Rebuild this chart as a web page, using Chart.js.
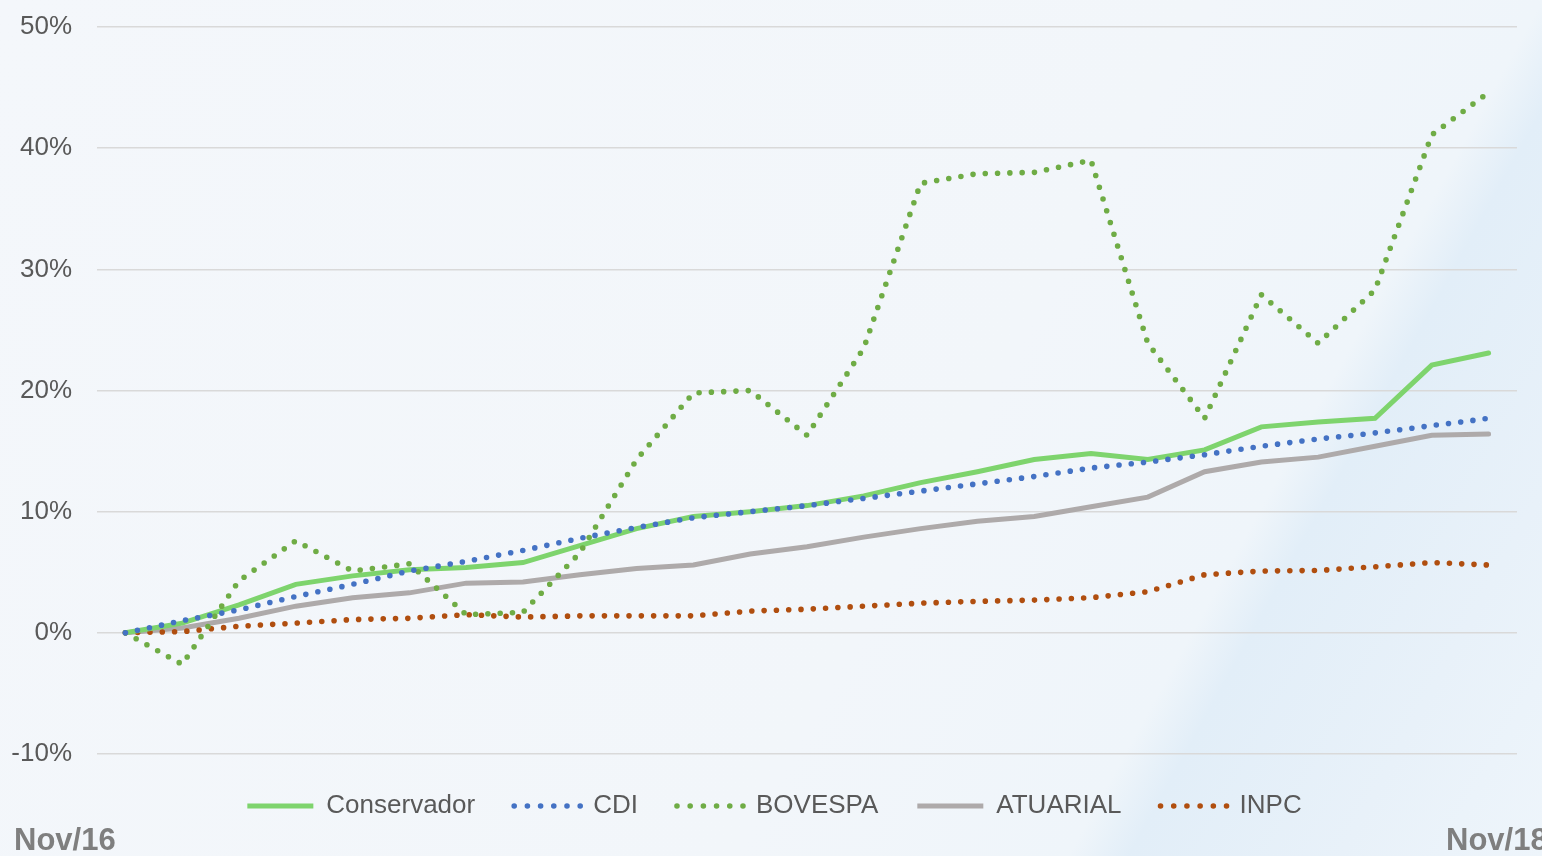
<!DOCTYPE html>
<html>
<head>
<meta charset="utf-8">
<script src="https://cdn.jsdelivr.net/npm/chart.js@4/dist/chart.umd.min.js"></script>
<style>
  html, body { margin: 0; padding: 0; }
  body {
    width: 1542px; height: 856px; overflow: hidden; position: relative;
    background: linear-gradient(119deg, #f4f7fb 0%, #f2f6fa 60%, #eff5fa 76.5%, #e2eef8 79.5%, #e8f1f9 90%, #eef5fb 100%);
    font-family: "Liberation Sans", Arial, sans-serif;
  }
  #wrap { position: absolute; left: 0; top: 0; width: 1560px; height: 856px; }
  .corner { position: absolute; font-weight: bold; font-size: 31px; line-height: 31px; color: #7f7f7f; white-space: nowrap; }
</style>
</head>
<body>
<div id="wrap"><canvas id="c" width="1560" height="856"></canvas></div>
<div class="corner" id="startLbl" style="left:14px; top:824px;"></div>
<div class="corner" id="endLbl" style="left:1446px; top:824px;"></div>
<script>
const months = ["Nov/16","Dez/16","Jan/17","Fev/17","Mar/17","Abr/17","Mai/17","Jun/17","Jul/17","Ago/17","Set/17","Out/17","Nov/17","Dez/17","Jan/18","Fev/18","Mar/18","Abr/18","Mai/18","Jun/18","Jul/18","Ago/18","Set/18","Out/18","Nov/18"];
const conservador = [0, 0.8, 2.3, 4.0, 4.7, 5.2, 5.4, 5.8, 7.2, 8.6, 9.6, 10.0, 10.5, 11.3, 12.4, 13.3, 14.3, 14.8, 14.3, 15.1, 17.0, 17.4, 17.7, 22.1, 23.1];
const cdi = [0, 1.0, 1.9, 3.0, 4.0, 5.1, 5.9, 6.8, 7.8, 8.7, 9.5, 10.0, 10.5, 11.1, 11.7, 12.3, 12.9, 13.6, 14.1, 14.7, 15.4, 16.0, 16.5, 17.1, 17.7];
const bovespa = [0, -2.6, 4.3, 7.6, 5.1, 5.7, 1.5, 1.7, 6.6, 14.3, 19.8, 20.0, 16.3, 23.5, 37.1, 37.9, 38.0, 39.0, 23.9, 17.7, 27.9, 23.9, 28.3, 41.1, 44.6];
const atuarial = [0, 0.4, 1.2, 2.2, 2.9, 3.3, 4.1, 4.2, 4.8, 5.3, 5.6, 6.5, 7.1, 7.9, 8.6, 9.2, 9.6, 10.4, 11.2, 13.3, 14.1, 14.5, 15.4, 16.3, 16.4];
const inpc = [0, 0.1, 0.55, 0.8, 1.1, 1.2, 1.5, 1.3, 1.4, 1.4, 1.4, 1.8, 1.95, 2.2, 2.45, 2.6, 2.7, 2.9, 3.4, 4.8, 5.1, 5.15, 5.45, 5.8, 5.6];
const yTicks = [-10, 0, 10, 20, 30, 40, 50];
const startLabel = "Nov/16";
const endLabel = "Nov/18";

document.getElementById('startLbl').textContent = startLabel;
document.getElementById('endLbl').textContent = endLabel;

const DOT = [0, 12.3];
const LEG_W = 66;
function solid(label, data, color, order) {
  return { label, data, borderColor: color, backgroundColor: color, borderWidth: 5, pointRadius: 0, tension: 0, borderCapStyle: 'round', borderJoinStyle: 'miter', order, fill: false };
}
function dotted(label, data, color, order) {
  return { label, data, borderColor: color, backgroundColor: color, borderWidth: 5.6, pointRadius: 0, tension: 0, borderCapStyle: 'round', borderJoinStyle: 'round', borderDash: DOT, order, fill: false };
}

new Chart(document.getElementById('c'), {
  type: 'line',
  data: {
    labels: months,
    datasets: [
      solid('Conservador', conservador, '#7ed46d', 3),
      dotted('CDI', cdi, '#4472c4', 1),
      dotted('BOVESPA', bovespa, '#6fac45', 2),
      solid('ATUARIAL', atuarial, '#aeaaaa', 5),
      dotted('INPC', inpc, '#b04e0f', 4)
    ]
  },
  options: {
    responsive: false,
    animation: false,
    events: [],
    layout: { padding: { top: 27, right: 11, bottom: 27, left: 0 } },
    plugins: {
      tooltip: { enabled: false },
      legend: {
        display: true,
        position: 'bottom',
        align: 'center',
        labels: {
          boxWidth: LEG_W,
          boxHeight: 0,
          padding: 39,
          color: '#595959',
          font: { family: '"Liberation Sans", Arial, sans-serif', size: 26 },
          sort: (a, b) => a.datasetIndex - b.datasetIndex,
          generateLabels: (chart) => {
            const items = Chart.defaults.plugins.legend.labels.generateLabels(chart);
            items.forEach(it => {
              it.fillStyle = 'rgba(0,0,0,0)';
              if (it.lineDash && it.lineDash.length) it.lineDash = [0, LEG_W / 5];
            });
            return items;
          }
        }
      }
    },
    scales: {
      x: {
        display: false,
        offset: true
      },
      y: {
        min: yTicks[0],
        max: yTicks[yTicks.length - 1],
        afterBuildTicks: (scale) => { scale.ticks = yTicks.map(v => ({ value: v })); },
        afterFit: (scale) => { scale.width = 97; scale.paddingTop = 0; scale.paddingBottom = 0; },
        border: { display: false },
        grid: { color: '#d9d9d9', lineWidth: 1.5, drawTicks: false },
        ticks: {
          padding: 25,
          color: '#595959',
          font: { family: '"Liberation Sans", Arial, sans-serif', size: 26 },
          callback: (v) => v + '%'
        }
      },
      yRight: {
        position: 'right',
        display: true,
        min: 0, max: 1,
        grid: { display: false, drawTicks: false },
        border: { display: false },
        ticks: { display: false },
        afterFit: (scale) => { scale.width = 32; scale.paddingTop = 0; scale.paddingBottom = 0; }
      }
    }
  }
});
</script>
</body>
</html>
